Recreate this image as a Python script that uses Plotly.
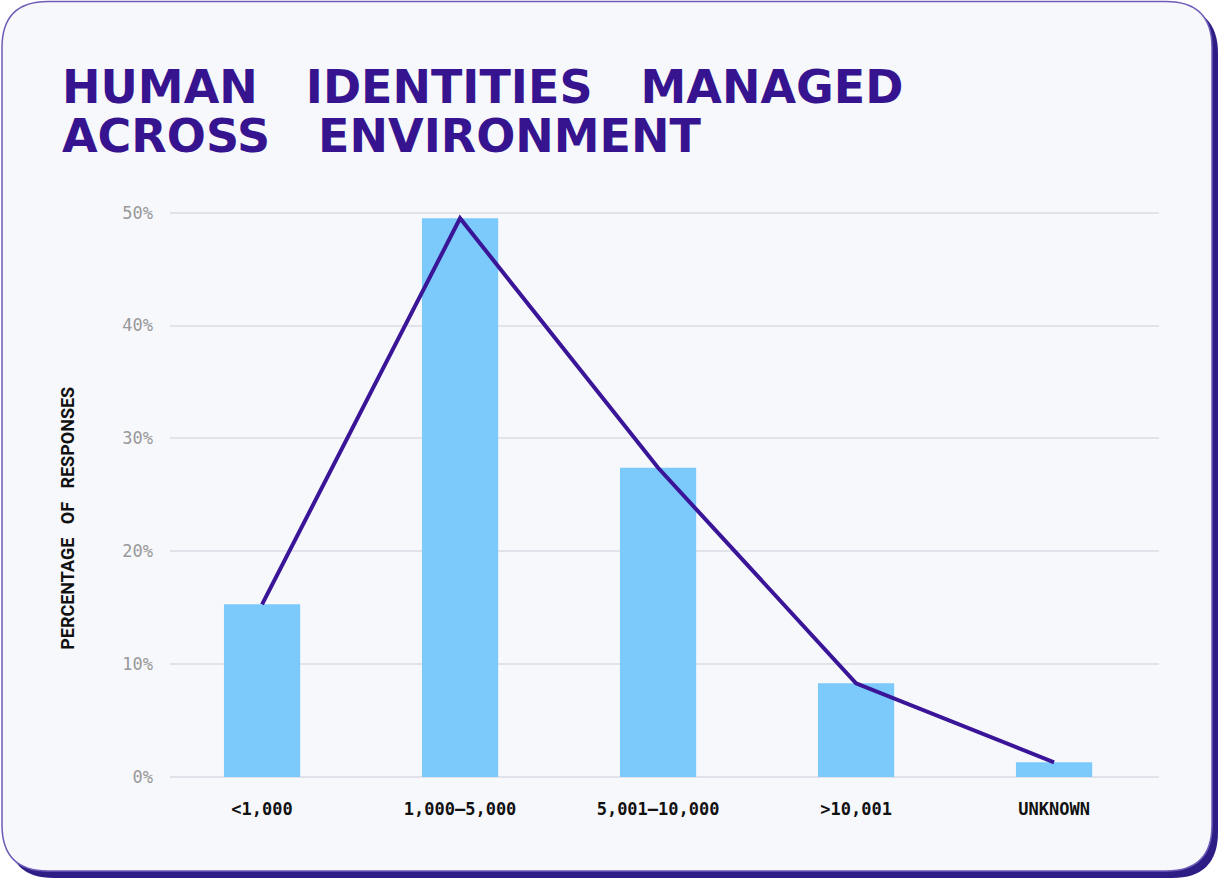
import plotly.graph_objects as go

categories = ["<1,000", "1,000\u20135,000", "5,001\u201310,000", ">10,001", "UNKNOWN"]
values = [15.3, 49.5, 27.4, 8.3, 1.3]
y_ticks = [0, 10, 20, 30, 40, 50]
y_tick_labels = ["0%", "10%", "20%", "30%", "40%", "50%"]
title_lines = ["HUMAN IDENTITIES MANAGED", "ACROSS ENVIRONMENT"]
y_title = "PERCENTAGE OF RESPONSES"

W_FIG, H_FIG = 1220, 880
Y_MAX = 50.5
L, R, B = 170, 1159, 777
T = B - (B - 213) * Y_MAX / 50.0
PW, PH = R - L, B - T


def px(x):
    return (x - L) / PW


def py(y):
    return (B - y) / PH


def rounded_rect(x0, y0, x1, y1, r):
    pts = [
        f"M {px(x0 + r)} {py(y0)}",
        f"L {px(x1 - r)} {py(y0)}",
        f"Q {px(x1)} {py(y0)} {px(x1)} {py(y0 + r)}",
        f"L {px(x1)} {py(y1 - r)}",
        f"Q {px(x1)} {py(y1)} {px(x1 - r)} {py(y1)}",
        f"L {px(x0 + r)} {py(y1)}",
        f"Q {px(x0)} {py(y1)} {px(x0)} {py(y1 - r)}",
        f"L {px(x0)} {py(y0 + r)}",
        f"Q {px(x0)} {py(y0)} {px(x0 + r)} {py(y0)}",
        "Z",
    ]
    return " ".join(pts)


fig = go.Figure()
fig.add_trace(go.Bar(
    x=list(range(len(categories))), y=values,
    marker=dict(color="#7ccafb", line=dict(width=0)),
    width=0.385, hoverinfo="skip", showlegend=False,
))
fig.add_trace(go.Scatter(
    x=list(range(len(categories))), y=values, mode="lines",
    line=dict(color="#3a1598", width=4), cliponaxis=False,
    hoverinfo="skip", showlegend=False,
))

shapes = [
    dict(type="path", xref="paper", yref="paper", layer="below",
         path=rounded_rect(8, 8, 1218, 878, 46),
         fillcolor="#2e1d85", line=dict(width=0)),
    dict(type="path", xref="paper", yref="paper", layer="below",
         path=rounded_rect(2, 2, 1212, 871, 46),
         fillcolor="#f7f8fc", line=dict(color="#6f5cb8", width=1.5)),
]

title_font = dict(family="DejaVu Sans", size=46, color="#37148f", weight=800)
annotations = []
for line, ytop in zip(title_lines, [58, 107]):
    annotations.append(dict(
        text=line.replace(" ", "\u00a0\u00a0\u00a0"), xref="paper", yref="paper",
        x=px(60), y=py(ytop), xanchor="left", yanchor="top",
        showarrow=False, font=title_font,
    ))
annotations.append(dict(
    text=y_title.replace(" ", "\u00a0\u00a0\u00a0"), xref="paper", yref="paper",
    x=px(68), y=py(519), xanchor="center", yanchor="middle", textangle=-90,
    showarrow=False, font=dict(family="Roboto", size=18, color="#111111", weight=700),
))

fig.update_layout(
    width=W_FIG, height=H_FIG,
    margin=dict(l=L, r=W_FIG - R, t=T, b=H_FIG - B, pad=0),
    paper_bgcolor="#ffffff", plot_bgcolor="rgba(0,0,0,0)",
    shapes=shapes, annotations=annotations,
    xaxis=dict(
        range=[-0.465, 4.53], tickvals=list(range(len(categories))), ticktext=categories,
        showgrid=False, zeroline=False, showline=False, ticks="",
        tickfont=dict(family="DejaVu Sans Mono", size=17, color="#111111", weight=700),
        ticklabelstandoff=20, fixedrange=True,
    ),
    yaxis=dict(
        range=[0, Y_MAX], tickvals=y_ticks, ticktext=y_tick_labels,
        showgrid=True, gridcolor="#e2e2ea", gridwidth=1.5,
        zeroline=True, zerolinecolor="#e2e2ea", zerolinewidth=1.5,
        showline=False, ticks="",
        tickfont=dict(family="DejaVu Sans Mono", size=17, color="#999999"),
        ticklabelstandoff=16, fixedrange=True,
    ),
)

fig.write_html(
    "out.html",
    config={"displayModeBar": False},
    post_script="document.body.style.margin='0';document.body.style.overflow='hidden';",
)
